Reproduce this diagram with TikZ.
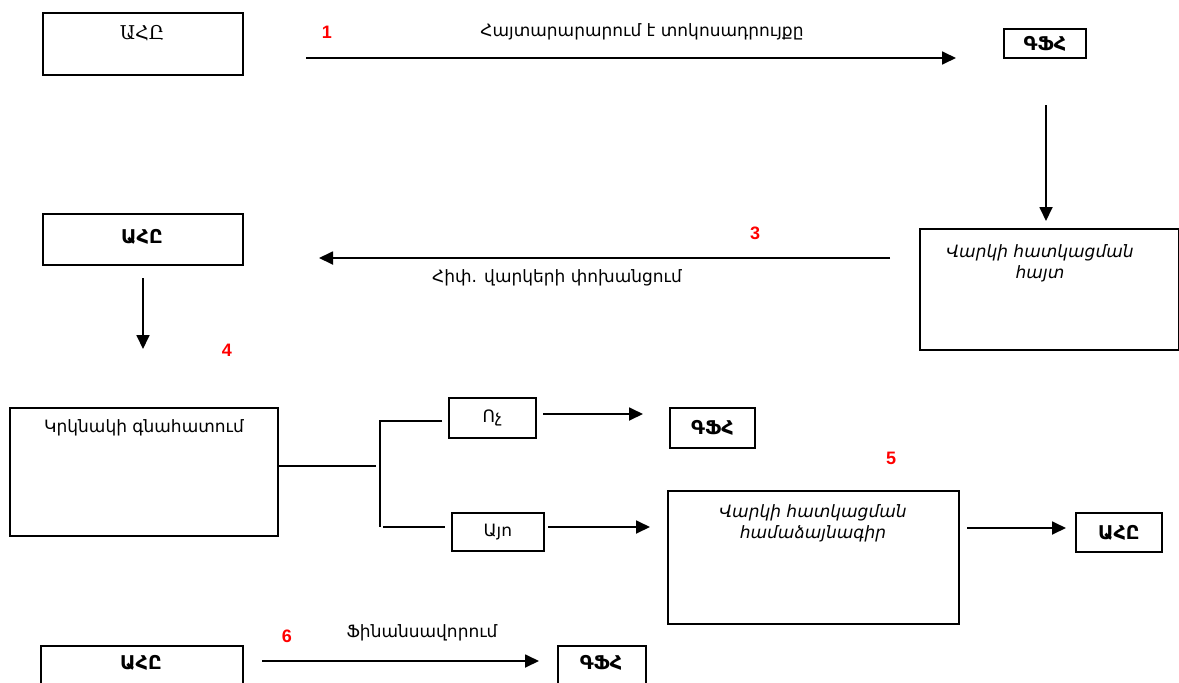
\documentclass[tikz,border=0pt]{standalone}
\usepackage{fontspec}
\setmainfont{DejaVu Sans}
\newfontfamily\armserif{DejaVu Serif}
\newfontfamily\numfont{Liberation Sans}
\usetikzlibrary{arrows.meta}
\begin{document}
\begin{tikzpicture}[x=1pt,y=-1pt,
  box/.style={draw,line width=1.8pt,anchor=north west,inner sep=0pt},
  arr/.style={line width=1.8pt,-{Triangle[length=14pt,width=13pt]}},
  ln/.style={line width=1.8pt},
  txt/.style={font=\fontsize{17}{21}\selectfont,inner sep=0pt,align=center},
  itx/.style={font=\itshape\fontsize{17}{21}\selectfont,inner sep=0pt,align=center},
  bld/.style={font=\bfseries\fontsize{19}{20}\selectfont,inner sep=0pt},
  num/.style={font=\numfont\bfseries\fontsize{18}{19}\selectfont,text=red,inner sep=0pt},
]
\useasboundingbox (0,0) rectangle (1179,683);
% boxes
\node[box,minimum width=200pt,minimum height=62pt] (b1) at (42,12) {};
\node[font=\armserif\fontsize{19}{20}\selectfont,inner sep=0pt] (t1) at (142,33) {ԱՀԸ};
\node[box,minimum width=82pt,minimum height=29pt] (b2) at (1003,28) {};
\node[bld] (t2) at (b2.center) {ԳՖՀ};
\node[box,minimum width=259pt,minimum height=121pt] (b3) at (919,228) {};
\node[itx,anchor=north] (t3) at (1040,244) {Վարկի հատկացման\\հայտ};
\node[box,minimum width=200pt,minimum height=51pt] (b4) at (42,213) {};
\node[bld] (t4) at (142,237) {ԱՀԸ};
\node[box,minimum width=268pt,minimum height=128pt] (b5) at (9,407) {};
\node[txt] (t5) at (144,428) {Կրկնակի գնահատում};
\node[box,minimum width=87pt,minimum height=40pt] (b6) at (448,397) {};
\node[txt] (t6) at (b6.center) {Ոչ};
\node[box,minimum width=85pt,minimum height=40pt] (b7) at (669,407) {};
\node[bld] (t7) at (b7.center) {ԳՖՀ};
\node[box,minimum width=92pt,minimum height=38pt] (b8) at (451,512) {};
\node[txt] (t8) at (b8.center) {Այո};
\node[box,minimum width=291pt,minimum height=133pt] (b9) at (667,490) {};
\node[itx,anchor=north] (t9) at (813,504) {Վարկի հատկացման\\համաձայնագիր};
\node[box,minimum width=86pt,minimum height=39pt] (b10) at (1075,512) {};
\node[bld] (t10) at (b10.center) {ԱՀԸ};
\node[box,minimum width=202pt,minimum height=45pt] (b11) at (40,645) {};
\node[bld] (t11) at (141,663) {ԱՀԸ};
\node[box,minimum width=88pt,minimum height=45pt] (b12) at (557,645) {};
\node[bld] (t12) at (601,663) {ԳՖՀ};
% labels
\node[txt] (l1) at (642,32) {Հայտարարարում է տոկոսադրույքը};
\node[txt] (l3) at (557,278) {Հիփ. վարկերի փոխանցում};
\node[txt] (l6) at (422,633) {Ֆինանսավորում};
\node[num] (n1) at (327,32) {1};
\node[num] (n3) at (755,233) {3};
\node[num] (n4) at (227,350) {4};
\node[num] (n5) at (891,458) {5};
\node[num] (n6) at (287,636) {6};
% connector end points
\coordinate (a1s) at (306,58); \coordinate (a1e) at (956,58);
\coordinate (a2s) at (1046,105); \coordinate (a2e) at (1046,221);
\coordinate (a3s) at (890,258); \coordinate (a3e) at (319,258);
\coordinate (a4s) at (143,278); \coordinate (a4e) at (143,349);
\coordinate (j0) at (376,466);
\coordinate (jt) at (380,421); \coordinate (jb) at (380,527);
\coordinate (jt2) at (442,421); \coordinate (jb1) at (383,527); \coordinate (jb2) at (445,527);
\coordinate (a6s) at (543,414); \coordinate (a6e) at (643,414);
\coordinate (a7s) at (548,527); \coordinate (a7e) at (650,527);
\coordinate (a8s) at (967,528); \coordinate (a8e) at (1066,528);
\coordinate (a9s) at (262,661); \coordinate (a9e) at (539,661);
% connectors
\draw[arr] (a1s) -- (a1e);
\draw[arr] (a2s) -- (a2e);
\draw[arr] (a3s) -- (a3e);
\draw[arr] (a4s) -- (a4e);
\draw[ln] (b5.east |- j0) -- (j0);
\draw[ln] (jt2) -- (jt) -- (jb);
\draw[ln] (jb1) -- (jb2);
\draw[arr] (a6s) -- (a6e);
\draw[arr] (a7s) -- (a7e);
\draw[arr] (a8s) -- (a8e);
\draw[arr] (a9s) -- (a9e);
\end{tikzpicture}
\end{document}
